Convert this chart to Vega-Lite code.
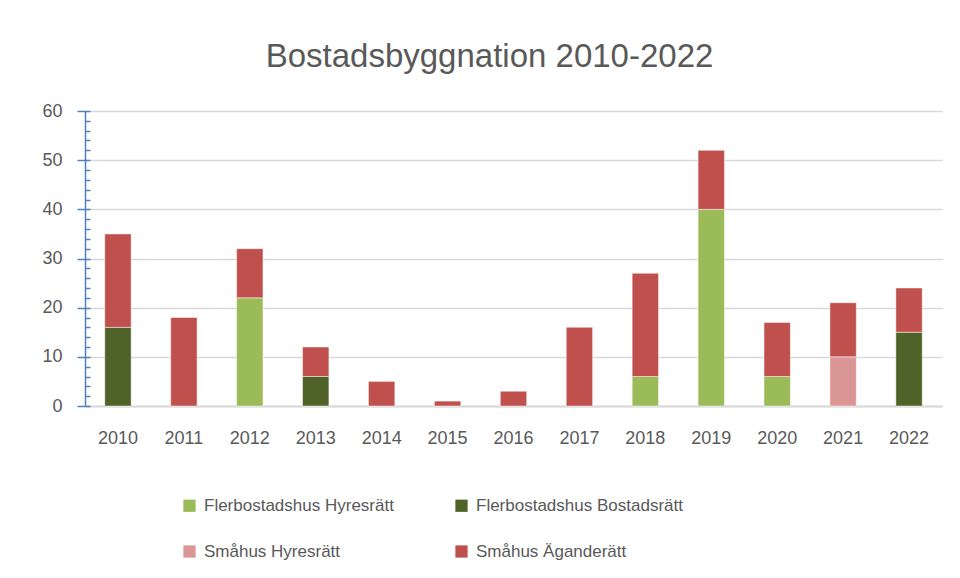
{
  "$schema": "https://vega.github.io/schema/vega-lite/v6.json",
  "autosize": {"type": "none"},
  "width": 857,
  "height": 295,
  "padding": {"left": 85, "top": 111, "right": 18, "bottom": 172},
  "background": "#ffffff",
  "title": {
    "text": "Bostadsbyggnation 2010-2022",
    "font": "Liberation Sans",
    "fontSize": 33,
    "fontWeight": "normal",
    "color": "#595959",
    "anchor": "middle",
    "dx": -24,
    "baseline": "alphabetic",
    "offset": 2
  },
  "data": {
    "values": [
      {"year": "2010", "typ": "Flerbostadshus Bostadsrätt", "antal": 16, "ord": 2},
      {"year": "2010", "typ": "Småhus Äganderätt", "antal": 19, "ord": 4},
      {"year": "2011", "typ": "Småhus Äganderätt", "antal": 18, "ord": 4},
      {"year": "2012", "typ": "Flerbostadshus Hyresrätt", "antal": 22, "ord": 1},
      {"year": "2012", "typ": "Småhus Äganderätt", "antal": 10, "ord": 4},
      {"year": "2013", "typ": "Flerbostadshus Bostadsrätt", "antal": 6, "ord": 2},
      {"year": "2013", "typ": "Småhus Äganderätt", "antal": 6, "ord": 4},
      {"year": "2014", "typ": "Småhus Äganderätt", "antal": 5, "ord": 4},
      {"year": "2015", "typ": "Småhus Äganderätt", "antal": 1, "ord": 4},
      {"year": "2016", "typ": "Småhus Äganderätt", "antal": 3, "ord": 4},
      {"year": "2017", "typ": "Småhus Äganderätt", "antal": 16, "ord": 4},
      {"year": "2018", "typ": "Flerbostadshus Hyresrätt", "antal": 6, "ord": 1},
      {"year": "2018", "typ": "Småhus Äganderätt", "antal": 21, "ord": 4},
      {"year": "2019", "typ": "Flerbostadshus Hyresrätt", "antal": 40, "ord": 1},
      {"year": "2019", "typ": "Småhus Äganderätt", "antal": 12, "ord": 4},
      {"year": "2020", "typ": "Flerbostadshus Hyresrätt", "antal": 6, "ord": 1},
      {"year": "2020", "typ": "Småhus Äganderätt", "antal": 11, "ord": 4},
      {"year": "2021", "typ": "Småhus Hyresrätt", "antal": 10, "ord": 3},
      {"year": "2021", "typ": "Småhus Äganderätt", "antal": 11, "ord": 4},
      {"year": "2022", "typ": "Flerbostadshus Bostadsrätt", "antal": 15, "ord": 2},
      {"year": "2022", "typ": "Småhus Äganderätt", "antal": 9, "ord": 4}
    ]
  },
  "layer": [
    {
      "mark": {"type": "bar", "stroke": "#ffffff", "strokeWidth": 0.8, "strokeOpacity": 0.6},
      "encoding": {
        "x": {
          "field": "year",
          "type": "nominal",
          "sort": null,
          "scale": {"paddingInner": 0.6, "paddingOuter": 0.3},
          "axis": {
            "title": null,
            "labelAngle": 0,
            "labelFont": "Liberation Sans",
            "labelFontSize": 18,
            "labelColor": "#595959",
            "labelPadding": 23,
            "ticks": false,
            "domainColor": "#D9D9D9",
            "domainWidth": 2,
            "grid": false
          }
        },
        "y": {
          "field": "antal",
          "type": "quantitative",
          "aggregate": "sum",
          "stack": "zero",
          "scale": {"domain": [0, 60], "nice": false},
          "axis": {
            "title": null,
            "values": [0, 10, 20, 30, 40, 50, 60],
            "labelFont": "Liberation Sans",
            "labelFontSize": 18,
            "labelColor": "#595959",
            "labelPadding": 15,
            "tickSize": 8,
            "tickColor": "#4F81BD",
            "tickWidth": 1.5,
            "domainColor": "#4F81BD",
            "domainWidth": 1.5,
            "grid": true,
            "gridColor": "#D9D9D9",
            "gridWidth": 1.5
          }
        },
        "color": {
          "field": "typ",
          "type": "nominal",
          "scale": {
            "domain": ["Flerbostadshus Hyresrätt", "Flerbostadshus Bostadsrätt", "Småhus Hyresrätt", "Småhus Äganderätt"],
            "range": ["#9BBB59", "#4F6228", "#D99694", "#C0504D"]
          },
          "legend": {
            "title": null,
            "orient": "none",
            "legendX": 96,
            "legendY": 386,
            "direction": "horizontal",
            "columns": 2,
            "columnPadding": 59,
            "rowPadding": 28,
            "symbolType": "square",
            "symbolSize": 150,
            "symbolStrokeWidth": 0,
            "labelFont": "Liberation Sans",
            "labelFontSize": 17,
            "labelColor": "#595959",
            "labelOffset": 6,
            "labelLimit": 400
          }
        },
        "order": {"field": "ord", "type": "quantitative", "aggregate": "min"}
      }
    },
    {
      "mark": {"type": "bar", "opacity": 0},
      "encoding": {
        "x": {"field": "year", "type": "nominal", "sort": null},
        "y": {
          "field": "antal",
          "type": "quantitative",
          "aggregate": "sum",
          "axis": {
            "orient": "left",
            "title": null,
            "values": [0, 2, 4, 6, 8, 10, 12, 14, 16, 18, 20, 22, 24, 26, 28, 30, 32, 34, 36, 38, 40, 42, 44, 46, 48, 50, 52, 54, 56, 58, 60],
            "labels": false,
            "domain": false,
            "grid": false,
            "tickSize": -5,
            "tickColor": "#4F81BD",
            "tickWidth": 1.5
          }
        }
      }
    }
  ],
  "resolve": {"axis": {"y": "independent"}},
  "config": {"view": {"stroke": null}}
}
